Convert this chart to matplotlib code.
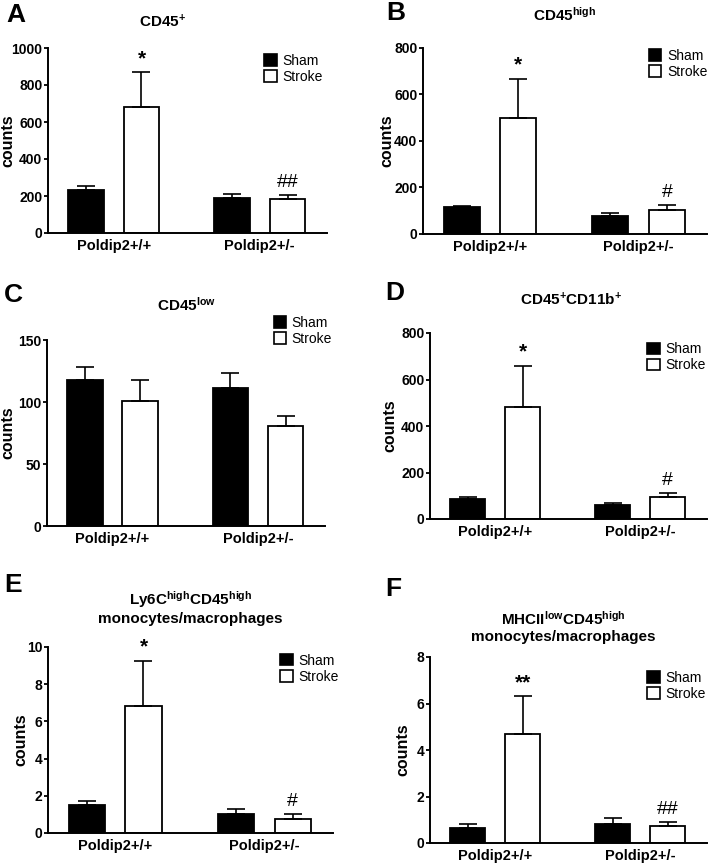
import numpy as np
import matplotlib
matplotlib.use('Agg')
import matplotlib.pyplot as plt
from matplotlib.patches import Patch

plt.rcParams['font.family'] = ['Liberation Sans', 'DejaVu Sans']
plt.rcParams['mathtext.fontset'] = 'custom'
plt.rcParams['mathtext.rm'] = 'Liberation Sans'
plt.rcParams['mathtext.bf'] = 'Liberation Sans:bold'

groups = ['Poldip2+/+', 'Poldip2+/-']

# A: CD45+
cd45_sham = [234, 187]
cd45_sham_err = [18, 24]
cd45_stroke = [679, 184]
cd45_stroke_err = [189, 21]
cd45_marks = ['*', '##']

# B: CD45 high
cd45hi_sham = [116, 79]
cd45hi_sham_err = [4, 11]
cd45hi_stroke = [499, 103]
cd45hi_stroke_err = [169, 20]
cd45hi_marks = ['*', '#']

# C: CD45 low
cd45lo_sham = [118, 111]
cd45lo_sham_err = [10.5, 12.5]
cd45lo_stroke = [101, 80.5]
cd45lo_stroke_err = [17, 8.5]
cd45lo_marks = ['', '']

# D: CD45+CD11b+
cd11b_sham = [88, 59]
cd11b_sham_err = [7, 11]
cd11b_stroke = [482, 95]
cd11b_stroke_err = [177, 17]
cd11b_marks = ['*', '#']

# E: Ly6C high CD45 high
ly6c_sham = [1.49, 1.02]
ly6c_sham_err = [0.21, 0.27]
ly6c_stroke = [6.81, 0.77]
ly6c_stroke_err = [2.46, 0.25]
ly6c_marks = ['*', '#']

# F: MHCII low CD45 high
mhc_sham = [0.65, 0.82]
mhc_sham_err = [0.17, 0.26]
mhc_stroke = [4.69, 0.72]
mhc_stroke_err = [1.62, 0.17]
mhc_marks = ['**', '##']

titles = [r'$\mathbf{CD45^{+}}$',
          r'$\mathbf{CD45^{high}}$',
          r'$\mathbf{CD45^{low}}$',
          r'$\mathbf{CD45^{+}CD11b^{+}}$',
          r'$\mathbf{Ly6C^{high}CD45^{high}}$' + '\nmonocytes/macrophages',
          r'$\mathbf{MHCII^{low}CD45^{high}}$' + '\nmonocytes/macrophages']
letters = ['A', 'B', 'C', 'D', 'E', 'F']
yticks = [np.arange(0, 1001, 200), np.arange(0, 801, 200), np.arange(0, 151, 50),
          np.arange(0, 801, 200), np.arange(0, 11, 2), np.arange(0, 9, 2)]

data = [(cd45_sham, cd45_sham_err, cd45_stroke, cd45_stroke_err, cd45_marks),
        (cd45hi_sham, cd45hi_sham_err, cd45hi_stroke, cd45hi_stroke_err, cd45hi_marks),
        (cd45lo_sham, cd45lo_sham_err, cd45lo_stroke, cd45lo_stroke_err, cd45lo_marks),
        (cd11b_sham, cd11b_sham_err, cd11b_stroke, cd11b_stroke_err, cd11b_marks),
        (ly6c_sham, ly6c_sham_err, ly6c_stroke, ly6c_stroke_err, ly6c_marks),
        (mhc_sham, mhc_sham_err, mhc_stroke, mhc_stroke_err, mhc_marks)]

# layout in pixels (left, right, top, bottom) of each axes
W, H = 708, 864
boxes = [(48, 327, 48, 233), (423, 707, 48, 234),
         (47, 325, 340, 526), (430, 707, 333, 519),
         (48, 333, 647, 833), (430, 707, 657, 843)]
title_pos = [(0.41, 1.14), (0.50, 1.18), (0.50, 1.19), (0.51, 1.18), (0.50, 1.21), (0.48, 1.16)]
legend_pos = [(0.775, 0.97), (0.795, 0.995), (0.815, 1.13), (0.785, 0.95), (0.815, 0.965), (0.785, 0.925)]
ylabel_x = [-0.118, -0.1, -0.115, -0.119, -0.07, -0.072]
letter_pos = [(6, 3), (386, 1), (4, 283), (385, 281), (4, 573), (385, 577)]

fig = plt.figure(figsize=(W / 100, H / 100), dpi=100)

x = np.arange(len(groups))
bw = 0.243
off = 0.19

for i in range(6):
    l, r, t, b = boxes[i]
    ax = fig.add_axes([l / W, 1 - b / H, (r - l) / W, (b - t) / H])
    sham, sham_err, stroke, stroke_err, marks = data[i]
    ax.bar(x - off, sham, bw, color='black', edgecolor='black', linewidth=1.3,
           yerr=[np.zeros(2), sham_err], capsize=6.5,
           error_kw=dict(ecolor='black', elinewidth=1.2, capthick=1.2), label='Sham')
    ax.bar(x + off, stroke, bw, color='white', edgecolor='black', linewidth=1.3,
           yerr=[np.zeros(2), stroke_err], capsize=6.5,
           error_kw=dict(ecolor='black', elinewidth=1.2, capthick=1.2), label='Stroke')
    for j in range(2):
        m = marks[j]
        if m:
            star = m.startswith('*')
            ax.annotate(m, (x[j] + off, stroke[j] + stroke_err[j]),
                        xytext=(0, 3), textcoords='offset points',
                        ha='center', va='bottom', fontsize=15 if star else 14,
                        fontweight='bold' if star else 'normal')
    ax.set_xlim(-0.45, 1.46)
    ax.set_ylim(yticks[i][0], yticks[i][-1])
    ax.set_yticks(yticks[i])
    ax.set_xticks(x)
    ax.set_xticklabels(groups, fontweight='bold', fontsize=10.5)
    ax.tick_params(axis='x', length=0, pad=4)
    ax.tick_params(axis='y', length=3, width=1.3, pad=1, labelsize=10)
    for lab in ax.get_yticklabels():
        lab.set_fontweight('bold')
    for s in ['top', 'right']:
        ax.spines[s].set_visible(False)
    for s in ['left', 'bottom']:
        ax.spines[s].set_linewidth(1.4)
    ax.set_ylabel('counts', fontweight='bold', fontsize=11.5)
    ax.yaxis.set_label_coords(ylabel_x[i], 0.5)
    ax.text(title_pos[i][0], title_pos[i][1], titles[i], transform=ax.transAxes,
            ha='center', va='center', fontsize=11, fontweight='bold', linespacing=1.2)
    handles = [Patch(facecolor='black', edgecolor='black', linewidth=1.2),
               Patch(facecolor='white', edgecolor='black', linewidth=1.2)]
    ax.legend(handles, ['Sham', 'Stroke'], loc='upper left',
              bbox_to_anchor=legend_pos[i], frameon=False, fontsize=10,
              handlelength=0.9, handleheight=0.9, handletextpad=0.4,
              labelspacing=0.15, borderaxespad=0, borderpad=0)
    fig.text(letter_pos[i][0] / W, 1 - letter_pos[i][1] / H, letters[i],
             fontsize=19, fontweight='bold', ha='left', va='top')

fig.savefig('out.png', dpi=100)
